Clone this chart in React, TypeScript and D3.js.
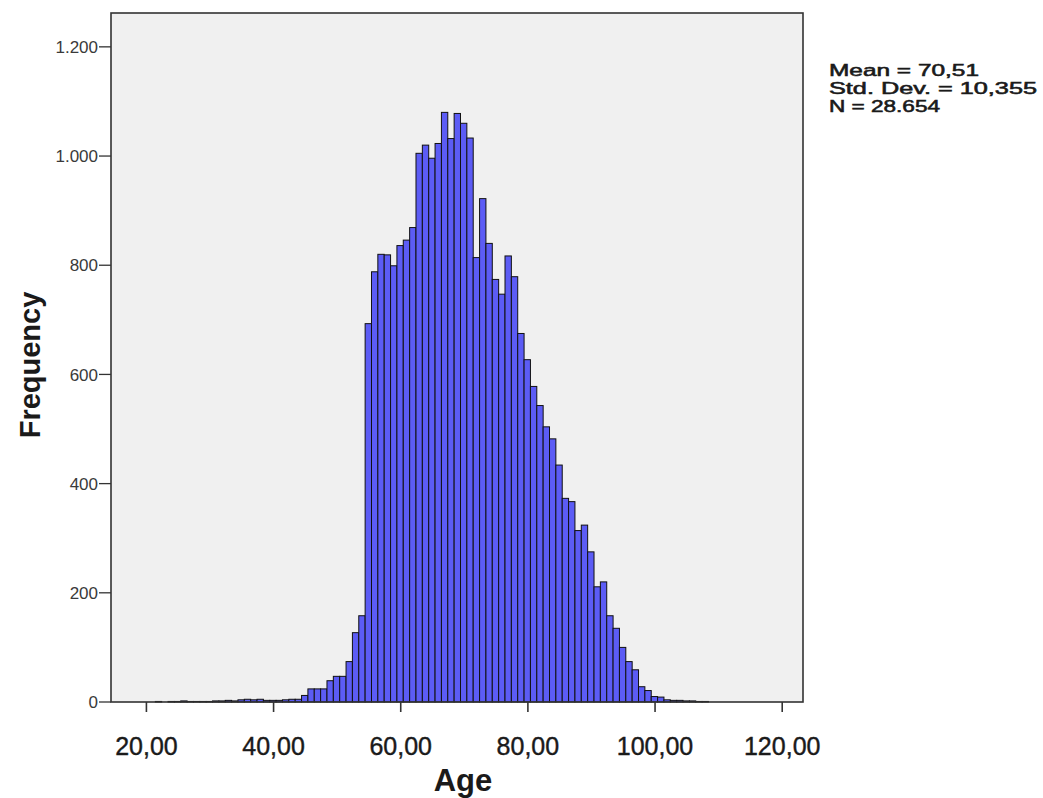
import React from "react";
import * as d3 from "d3";

// Histogram bins: start age of each 1-year bin and its frequency
const binStarts: number[] = [
  18.4, 19.4, 20.4, 21.4, 22.4, 23.4, 24.4, 25.4, 26.4, 27.4, 28.4, 29.4,
  30.4, 31.4, 32.4, 33.4, 34.4, 35.4, 36.4, 37.4, 38.4, 39.4, 40.4, 41.4,
  42.4, 43.4, 44.4, 45.4, 46.4, 47.4, 48.4, 49.4, 50.4, 51.4, 52.4, 53.4,
  54.4, 55.4, 56.4, 57.4, 58.4, 59.4, 60.4, 61.4, 62.4, 63.4, 64.4, 65.4,
  66.4, 67.4, 68.4, 69.4, 70.4, 71.4, 72.4, 73.4, 74.4, 75.4, 76.4, 77.4,
  78.4, 79.4, 80.4, 81.4, 82.4, 83.4, 84.4, 85.4, 86.4, 87.4, 88.4, 89.4,
  90.4, 91.4, 92.4, 93.4, 94.4, 95.4, 96.4, 97.4, 98.4, 99.4, 100.4, 101.4,
  102.4, 103.4, 104.4, 105.4, 106.4, 107.4,
];
const frequencies: number[] = [
  0, 0, 0, 1, 0, 1, 1, 2, 1, 1, 1, 1,
  2, 2, 3, 2, 4, 5, 4, 5, 3, 3, 3, 4,
  5, 5, 12, 24, 24, 24, 39, 47, 47, 74, 127, 158,
  693, 788, 820, 819, 799, 836, 846, 869, 1005, 1020, 996, 1023,
  1080, 1032, 1078, 1060, 1033, 814, 922, 840, 774, 747, 817, 779,
  675, 627, 578, 543, 504, 482, 434, 373, 367, 314, 324, 275,
  211, 220, 158, 135, 100, 74, 59, 28, 21, 10, 9, 4,
  3, 3, 2, 2, 1, 1,
];
const binWidth = 1;

const xTicks: number[] = [20, 40, 60, 80, 100, 120];
const yTicks: number[] = [0, 200, 400, 600, 800, 1000, 1200];
const statLines: string[] = ["Mean = 70,51", "Std. Dev. = 10,355", "N = 28.654"];
const statWidths: number[] = [150, 208, 111];
const xTitle = "Age";
const yTitle = "Frequency";

const locale = d3.formatLocale({
  decimal: ",",
  thousands: ".",
  grouping: [3],
  currency: ["", ""],
});
const fmtX = locale.format(".2f");
const fmtY = locale.format(",d");

export default function App() {
  const left = 111;
  const right = 803;
  const top = 13;
  const bottom = 702;

  const x = d3.scaleLinear().domain([14.43, 123.27]).range([left, right]);
  const y = d3.scaleLinear().domain([0, 1262]).range([bottom, top]);

  const font = "'Liberation Sans', Arial, sans-serif";
  const ink = "#1a1a1a";

  return (
    <svg
      width={1043}
      height={798}
      style={{ position: "absolute", left: 0, top: 0, background: "#fff" }}
    >
      <rect x={left} y={top} width={right - left} height={bottom - top} fill="#f0f0f0" />
      {binStarts.map((s, i) => {
        const v = frequencies[i];
        if (v <= 0) return null;
        const x0 = x(s);
        const x1 = x(s + binWidth);
        return (
          <rect
            key={i}
            x={x0}
            y={y(v)}
            width={x1 - x0}
            height={y(0) - y(v)}
            fill="#5c5cf5"
            stroke="#111"
            strokeWidth={1}
          />
        );
      })}
      <rect
        x={left}
        y={top}
        width={right - left}
        height={bottom - top}
        fill="none"
        stroke="#333"
        strokeWidth={1.6}
      />
      {yTicks.map((t) => (
        <g key={t}>
          <line x1={left - 12} x2={left} y1={y(t)} y2={y(t)} stroke="#333" strokeWidth={1.3} />
          <text
            x={left - 13}
            y={y(t)}
            dy="0.36em"
            textAnchor="end"
            fontFamily={font}
            fontSize={17}
            fill="#3a3a3a"
          >
            {fmtY(t)}
          </text>
        </g>
      ))}
      {xTicks.map((t) => (
        <g key={t}>
          <line x1={x(t)} x2={x(t)} y1={bottom} y2={bottom + 10} stroke="#333" strokeWidth={1.6} />
          <text
            x={x(t)}
            y={755}
            textAnchor="middle"
            fontFamily={font}
            fontSize={25}
            fill={ink}
            stroke={ink}
            strokeWidth={0.4}
          >
            {fmtX(t)}
          </text>
        </g>
      ))}
      <text
        x={463}
        y={791}
        textAnchor="middle"
        fontFamily={font}
        fontSize={31}
        fontWeight="bold"
        fill={ink}
      >
        {xTitle}
      </text>
      <text
        transform={`translate(40, 365) rotate(-90)`}
        textAnchor="middle"
        fontFamily={font}
        fontSize={29}
        fontWeight="bold"
        fill={ink}
      >
        {yTitle}
      </text>
      {statLines.map((s, i) => (
        <text
          key={i}
          x={829}
          y={76 + i * 17.8}
          fontFamily={font}
          fontSize={15.8}
          textLength={statWidths[i]}
          lengthAdjust="spacingAndGlyphs"
          fill={ink}
          stroke={ink}
          strokeWidth={0.55}
        >
          {s}
        </text>
      ))}
    </svg>
  );
}
